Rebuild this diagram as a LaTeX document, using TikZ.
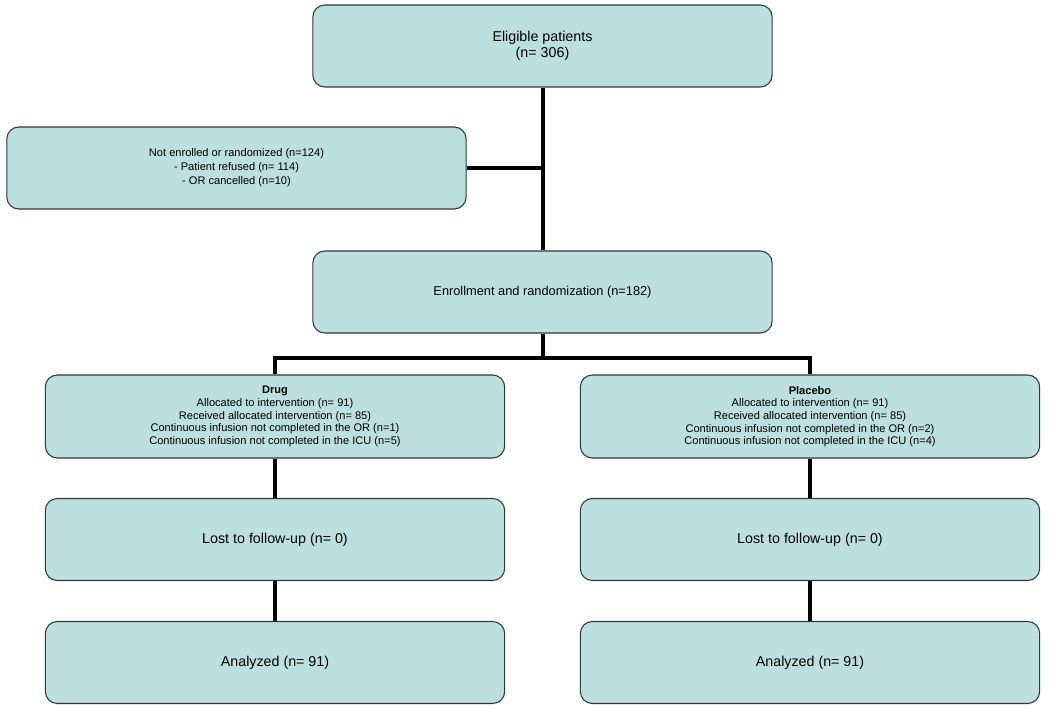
\documentclass[tikz,border=0pt]{standalone}
\usepackage{fontspec}
\setmainfont{Liberation Sans}
\definecolor{boxfill}{RGB}{188,223,223}
\definecolor{boxline}{RGB}{50,55,55}
\begin{document}
\begin{tikzpicture}[x=0.75pt,y=-0.75pt,
  box/.style={draw=boxline,line width=0.8pt,fill=boxfill,rounded corners=9pt,
    minimum width=344.5pt,minimum height=61.5pt,inner sep=0pt,align=center},
  bigtxt/.style={font=\fontsize{10.7}{12.3}\selectfont},
  midtxt/.style={font=\fontsize{9.6}{11.5}\selectfont},
  smalltxt/.style={font=\fontsize{8.3}{9.5}\selectfont},
  conn/.style={line width=3pt,black}]
\useasboundingbox (0,0) rectangle (1050,710);
\node[box,bigtxt] (elig) at (542.5,46) {Eligible patients\\(n= 306)};
\node[box,font=\fontsize{8.3}{10.5}\selectfont] (notenr) at (236.5,168) {Not enrolled or randomized (n=124)\\- Patient refused (n= 114)\\- OR cancelled (n=10)};
\node[box,midtxt] (enr) at (542.5,292) {Enrollment and randomization (n=182)};
\node[box,smalltxt,minimum height=62.25pt] (drug) at (275,416.5) {\textbf{Drug}\\Allocated to intervention (n= 91)\\Received allocated intervention (n= 85)\\Continuous infusion not completed in the OR (n=1)\\Continuous infusion not completed in the ICU (n=5)};
\node[box,smalltxt,minimum height=62.25pt] (plac) at (810,416.5) {\textbf{Placebo}\\Allocated to intervention (n= 91)\\Received allocated intervention (n= 85)\\Continuous infusion not completed in the OR (n=2)\\Continuous infusion not completed in the ICU (n=4)};
\node[box,bigtxt] (lost1) at (275,539.5) {Lost to follow-up (n= 0)};
\node[box,bigtxt] (lost2) at (810,539.5) {Lost to follow-up (n= 0)};
\node[box,bigtxt] (an1) at (275,662.5) {Analyzed (n= 91)};
\node[box,bigtxt] (an2) at (810,662.5) {Analyzed (n= 91)};
\coordinate (split) at (542.5,358);
\draw[conn] (elig.south) -- (enr.north);
\draw[conn] (notenr.east) -- (notenr.east -| elig.south);
\draw[conn] (enr.south) -- (split);
\draw[conn] (drug.north) |- (split) -| (plac.north);
\draw[conn] (drug.south) -- (lost1.north);
\draw[conn] (lost1.south) -- (an1.north);
\draw[conn] (plac.south) -- (lost2.north);
\draw[conn] (lost2.south) -- (an2.north);
\end{tikzpicture}
\end{document}
